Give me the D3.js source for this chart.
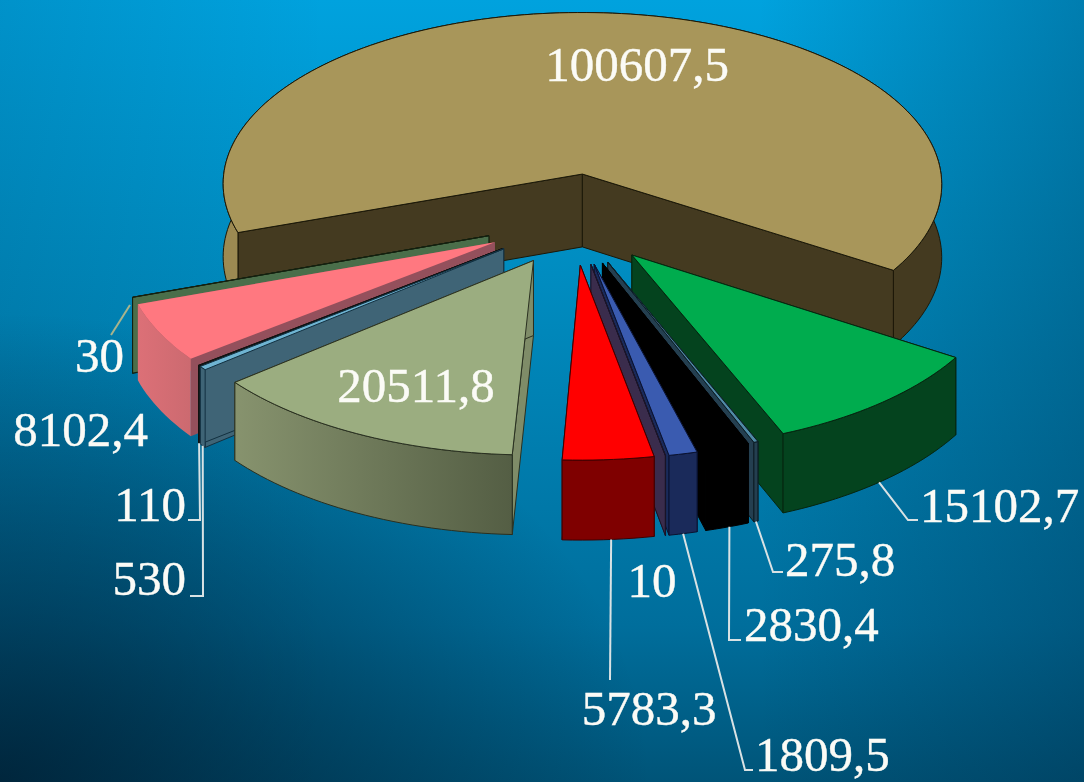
<!DOCTYPE html>
<html><head><meta charset="utf-8">
<script src="https://cdn.jsdelivr.net/npm/d3@7"></script>
<style>html,body{margin:0;padding:0;background:#036}svg{display:block}
text{font-family:"Liberation Serif",serif;fill:#fbfbf6;font-size:49px;stroke:#fbfbf6;stroke-width:.4px;}</style>
</head><body><svg id="c" width="1084" height="782"></svg>
<script>
// data
const values = [100607.5,15102.7,275.8,2830.4,1809.5,10,5783.3,20511.8,530,110,8102.4,30];
// styles
const topColors  = ["#a8965a","#00ac4e","#4f8aa6","#000000","#3a5bb0","#3a2c4c","#ff0000","#9bad80","#6fb4d2","#222a1a","#ff7880","#4a6e4a"];
const wallColors = ["#443a20","#04431e","#243f50","#000000","#1a2a5a","#3a2c4c","#7f0000","#7f8c68","#3f6476","#2a2a10","#94505c","#4a6e4a"];
const strokes    = ["#1c1808","#06250f","#0c1c24","#000","#0a1230","#1a1428","#400000","#2a3020","#123040","#111","none","#14200f"];
const rimGrad    = {0:["#9c8a52","#443a20"],7:["#87936e","#545e44"],10:["#dc7077","#cc6a70"]};
const paintOrder = [0,11,10,9,8,7,1,2,3,4,5,6];
// leader / text layout: index, text x, baseline, anchor, fraction along rim, leader waypoints
const labelLayout = [
 {i:0,x:637,y:81,a:"middle"},
 {i:7,x:416,y:402,a:"middle"},
 {i:1,x:920,y:522,a:"start",f:.52,pts:[[908,520],[918,520]]},
 {i:2,x:785,y:576,a:"start",f:.5,pts:[[773,572],[783,572]]},
 {i:3,x:744,y:641,a:"start",f:.45,pts:[[729,640],[741,640]]},
 {i:4,x:755,y:771,a:"start",f:.5,pts:[[745,770],[753,770]]},
 {i:5,x:652,y:597,a:"middle"},
 {i:6,x:649,y:725,a:"middle",f:.47,pts:[[610,680]]},
 {i:8,x:186,y:595,a:"end",f:.5,pts:[[203,596],[190,596]]},
 {i:9,x:186,y:521,a:"end",f:.5,pts:[[200,520],[188,520]]},
 {i:10,x:148,y:446,a:"end"},
 {i:11,x:124,y:372,a:"end",raw:[[130,305],[111,335]],col:"#a8b48c"}
];
// projection
const ox=574, oy=221, R=367, k=.4845, p=.06, explode=.245, depth=74;
const mainExplode=.27, mainRadius=.993, mainShiftX=-3;
const toRad = Math.PI/180;
function project(theta, r, d, z){
  const e=d.i===0?mainExplode:explode, rr=d.i===0?r*mainRadius:r;
  const X=e*Math.cos(d.mid)+rr*Math.cos(theta);
  const Y=e*Math.sin(d.mid)+rr*Math.sin(theta);
  const w=1/(1-p*Y);
  return [ox+(d.i===0?mainShiftX:0)+R*X*w, oy+k*R*Y*w+z*depth*w];
}
const pie=d3.pie().sort(null).value(v=>v).startAngle(250.4*toRad).endAngle(610.4*toRad);
const arcs=pie(values).map((a,i)=>{
  const t0=a.startAngle-Math.PI/2,t1=a.endAngle-Math.PI/2;
  return {i,t0,t1,mid:(t0+t1)/2};
});
const svg=d3.select("#c");
const defs=svg.append("defs");
const bg=defs.append("linearGradient").attr("id","bg").attr("x1",0).attr("y1",0).attr("x2",0).attr("y2",1);
[[0,"#00a2de"],[.35,"#008cc0"],[.8,"#006e9c"],[1,"#005478"]].forEach(s=>bg.append("stop").attr("offset",s[0]).attr("stop-color",s[1]));
const rightShade=defs.append("linearGradient").attr("id","rs").attr("x1",.7).attr("x2",1).attr("y1",0).attr("y2",0);
[[0,0],[1,.28]].forEach(s=>rightShade.append("stop").attr("offset",s[0]).attr("stop-color","#00203a").attr("stop-opacity",s[1]));
const leftShade=defs.append("linearGradient").attr("id","ls").attr("x1",0).attr("x2",.3).attr("y1",0).attr("y2",0);
[[0,.12],[1,0]].forEach(s=>leftShade.append("stop").attr("offset",s[0]).attr("stop-color","#00203a").attr("stop-opacity",s[1]));
const cornerShade=defs.append("radialGradient").attr("id","cs").attr("cx",0).attr("cy",1).attr("r",.6);
[[0,.7],[1,0]].forEach(s=>cornerShade.append("stop").attr("offset",s[0]).attr("stop-color","#001526").attr("stop-opacity",s[1]));
Object.entries(rimGrad).forEach(([i,c])=>{
  const g=defs.append("linearGradient").attr("id","rim"+i).attr("x1",0).attr("x2",1).attr("y1",0).attr("y2",0);
  g.append("stop").attr("offset",i==0?.12:0).attr("stop-color",c[0]);
  g.append("stop").attr("offset",i==0?.5:1).attr("stop-color",c[1]);
});
["bg","rs","ls","cs"].forEach(id=>svg.append("rect").attr("width",1084).attr("height",782).attr("fill",`url(#${id})`));
const line=d3.line();
function rimPts(d,z){
  const n=Math.max(2,Math.ceil((d.t1-d.t0)/(toRad*1.5)));
  return d3.range(n+1).map(j=>project(d.t0+(d.t1-d.t0)*j/n,1,d,z));
}
paintOrder.forEach(i=>{
  const d=arcs[i], g=svg.append("g");
  const face=(pts,fill)=>g.append("path").attr("d",line(pts)+"Z").attr("fill",fill)
     .attr("stroke",strokes[i]).attr("stroke-width",strokes[i]=="none"?0:1).attr("stroke-linejoin","round");
  const top=rimPts(d,0), bot=rimPts(d,1);
  const a0=project(0,0,d,0),a1=project(0,0,d,1);
  face([a0,top[0],bot[0],a1],wallColors[i]);
  face([a0,top[top.length-1],bot[bot.length-1],a1],wallColors[i]);
  face(top.concat(bot.slice().reverse()), rimGrad[i]?`url(#rim${i})`:wallColors[i]);
  face([a0].concat(top),topColors[i]);
});
// leaders and labels
labelLayout.forEach(l=>{
  let pts=l.raw;
  if(!pts && l.pts){
    const d=arcs[l.i];
    const th=d.t0+(d.t1-d.t0)*l.f;
    pts=[project(th,1,d,1)].concat(l.pts);
  }
  if(pts) svg.append("path").attr("d",line(pts)).attr("fill","none")
     .attr("stroke",l.col||"#d9e2e4").attr("stroke-width",2);
});
labelLayout.forEach(l=>{
  svg.append("text").attr("x",l.x).attr("y",l.y).attr("text-anchor",l.a)
     .text(String(values[l.i]).replace(".",","));
});
</script></body></html>
